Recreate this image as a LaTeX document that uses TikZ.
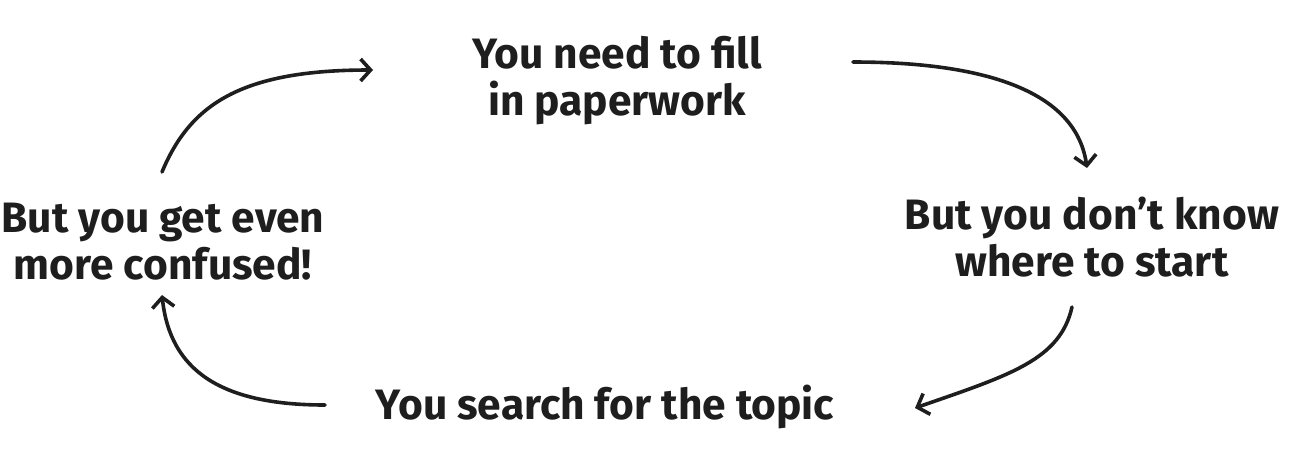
\documentclass[tikz,border=0pt]{standalone}
\usepackage{fontspec}
\setmainfont{Fira Sans}
\usetikzlibrary{arrows.meta,positioning}
\definecolor{ink}{HTML}{1E1E1E}

\tikzset{
  step text/.style={text=ink,align=center,inner sep=0pt,
    font=\bfseries\fontsize{42.5}{47}\selectfont},
  cycle arrow/.style={ink,line width=3.6pt,line cap=round,
    -{Straight Barb[length=10pt,width=22pt,line width=3.6pt]}}
}

\begin{document}
\begin{tikzpicture}[x=1pt,y=-1pt]
\useasboundingbox (0,0) rectangle (1289,456);
% the four steps
\node[step text] (fill) at (617,81) {You need to fill\\in paperwork};
\node[step text] (start) at (1092,237) {But you don’t know\\where to start};
\node[step text] (search) at (605,407) {You search for the topic};
\node[step text] (confused) at (163,242) {But you get even\\more confused!};
% free ends of the arrows
\coordinate (a1) at (162,172);
\coordinate (b1) at (373,70);
\coordinate (a2) at (853,62);
\coordinate (b2) at (1087,168);
\coordinate (a3) at (1072,307);
\coordinate (b3) at (915,408);
\coordinate (a4) at (325,405);
\coordinate (b4) at (162,295);
% arrows round the cycle
\draw[cycle arrow] (a1) .. controls (190,105) and (240,70) .. (b1);
\draw[cycle arrow] (a2) .. controls (970,62) and (1075,85) .. (b2);
\draw[cycle arrow] (a3) .. controls (1060,360) and (1010,375) .. (b3);
\draw[cycle arrow] (a4) .. controls (220,405) and (170,370) .. (b4);
\end{tikzpicture}
\end{document}
